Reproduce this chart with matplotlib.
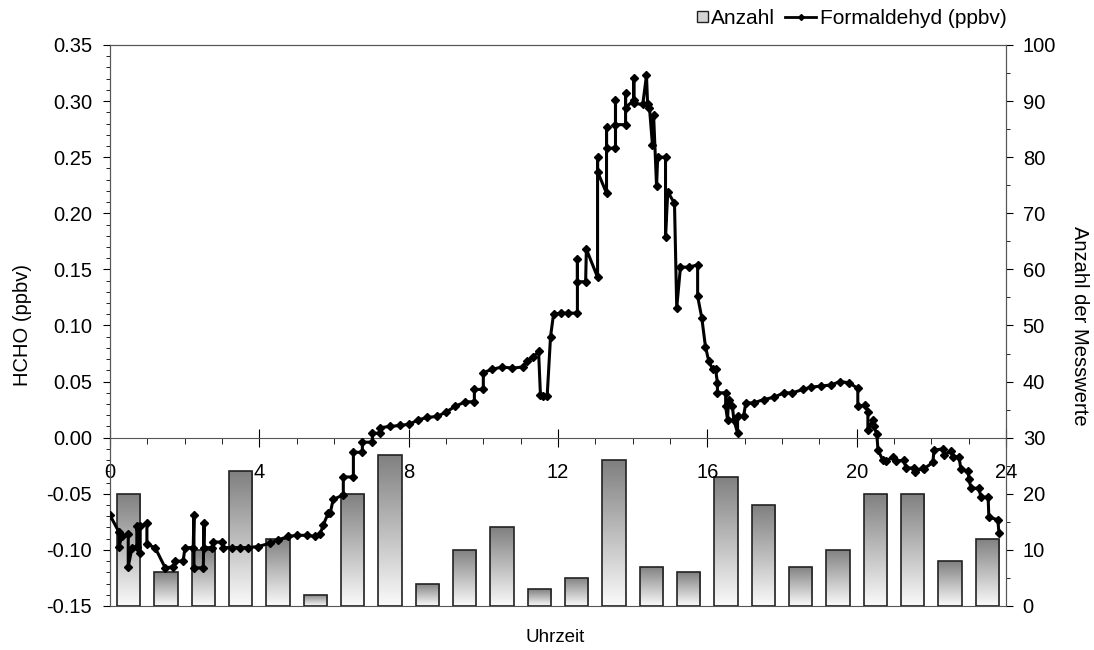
import matplotlib.pyplot as plt
import numpy as np
from matplotlib.patches import Patch, Rectangle
from matplotlib.lines import Line2D
from matplotlib.legend_handler import HandlerPatch
from matplotlib.ticker import MultipleLocator, FormatStrFormatter

plt.rcParams["font.family"] = ["Liberation Sans", "DejaVu Sans"]
plt.rcParams["font.size"] = 14.5

# hourly number of measurements (right axis)
hours = np.arange(24)
anzahl = [20, 6, 10, 24, 12, 2, 20, 27, 4, 10, 14, 3,
          5, 26, 7, 6, 23, 18, 7, 10, 20, 20, 8, 12]

# formaldehyde time series (left axis)
zeit = [0.0, 0.24, 0.24, 0.32, 0.49, 0.49, 0.59, 0.72, 0.72, 0.81, 0.81, 0.99,
        0.99, 1.21, 1.48, 1.70, 1.75, 1.96, 2.01, 2.23, 2.25, 2.25, 2.50, 2.52,
        2.52, 2.74, 2.77, 3.01, 3.03, 3.27, 3.49, 3.70, 3.97, 4.29, 4.51, 4.78,
        5.01, 5.28, 5.50, 5.63, 5.71, 5.85, 5.90, 5.98, 6.25, 6.25, 6.52, 6.52,
        6.76, 6.76, 7.03, 7.03, 7.24, 7.24, 7.51, 7.78, 8.02, 8.26, 8.50, 8.77,
        9.01, 9.25, 9.52, 9.76, 9.76, 10.00, 10.00, 10.24, 10.51, 10.78, 11.05, 11.18,
        11.34, 11.48, 11.53, 11.61, 11.71, 11.80, 11.88, 12.07, 12.28, 12.52, 12.52, 12.52,
        12.74, 12.76, 13.06, 13.06, 13.06, 13.30, 13.30, 13.30, 13.54, 13.54, 13.54, 13.81,
        13.81, 13.81, 14.03, 14.03, 14.03, 14.27, 14.37, 14.40, 14.45, 14.53, 14.56, 14.64,
        14.67, 14.88, 14.88, 14.94, 15.12, 15.18, 15.28, 15.50, 15.74, 15.74, 15.85, 15.95,
        16.04, 16.14, 16.22, 16.27, 16.27, 16.49, 16.49, 16.54, 16.57, 16.67, 16.71, 16.81,
        16.81, 16.97, 17.03, 17.24, 17.51, 17.78, 18.05, 18.28, 18.56, 18.77, 19.04, 19.31,
        19.55, 19.79, 20.03, 20.03, 20.22, 20.30, 20.30, 20.43, 20.46, 20.54, 20.57, 20.70,
        20.78, 20.97, 21.05, 21.26, 21.32, 21.53, 21.56, 21.77, 21.79, 22.04, 22.07, 22.31,
        22.34, 22.52, 22.58, 22.74, 22.79, 22.98, 23.01, 23.06, 23.27, 23.33, 23.52, 23.54,
        23.78, 23.81]
hcho = [-0.069, -0.084, -0.097, -0.088, -0.086, -0.115, -0.098, -0.097, -0.079, -0.103, -0.079, -0.076,
        -0.095, -0.098, -0.116, -0.115, -0.110, -0.110, -0.098, -0.098, -0.069, -0.116, -0.116, -0.076,
        -0.098, -0.098, -0.093, -0.093, -0.098, -0.098, -0.098, -0.098, -0.097, -0.094, -0.091, -0.088,
        -0.087, -0.087, -0.088, -0.086, -0.078, -0.067, -0.067, -0.055, -0.051, -0.035, -0.035, -0.013,
        -0.013, -0.004, -0.004, 0.004, 0.004, 0.009, 0.010, 0.011, 0.012, 0.016, 0.018, 0.019,
        0.023, 0.028, 0.032, 0.032, 0.043, 0.043, 0.058, 0.061, 0.063, 0.062, 0.063, 0.068,
        0.072, 0.077, 0.038, 0.037, 0.037, 0.090, 0.110, 0.111, 0.111, 0.111, 0.159, 0.139,
        0.139, 0.168, 0.143, 0.250, 0.237, 0.218, 0.277, 0.258, 0.258, 0.301, 0.279, 0.279,
        0.307, 0.294, 0.301, 0.321, 0.298, 0.297, 0.323, 0.297, 0.294, 0.261, 0.288, 0.224,
        0.250, 0.250, 0.179, 0.219, 0.209, 0.116, 0.152, 0.152, 0.154, 0.126, 0.107, 0.081,
        0.068, 0.061, 0.061, 0.049, 0.040, 0.040, 0.028, 0.016, 0.034, 0.028, 0.016, 0.004,
        0.019, 0.019, 0.031, 0.031, 0.034, 0.036, 0.040, 0.040, 0.043, 0.045, 0.046, 0.047,
        0.050, 0.049, 0.044, 0.028, 0.029, 0.023, 0.007, 0.016, 0.010, 0.003, -0.011, -0.020,
        -0.021, -0.017, -0.021, -0.020, -0.027, -0.027, -0.031, -0.027, -0.028, -0.022, -0.011, -0.010,
        -0.015, -0.012, -0.017, -0.017, -0.028, -0.030, -0.037, -0.045, -0.045, -0.053, -0.053, -0.071,
        -0.073, -0.085]


def small_square(legend, orig_handle, xdescent, ydescent, width, height, fontsize):
    s = height * 0.75
    return Rectangle((width - s - xdescent, (height - s) / 2 - ydescent), s, s)


fig = plt.figure(figsize=(10.94, 6.5), dpi=100)
ax = fig.add_axes([0.1005, 0.0677, 0.8191, 0.8631])
ax2 = ax.twinx()

# bars with vertical grey gradient
grad = np.linspace(0.98, 0.5, 256).reshape(-1, 1)
bars = ax2.bar(hours + 0.5, anzahl, width=0.63, facecolor="none",
               edgecolor="#222222", linewidth=1.2, zorder=3)
for b in bars:
    x0, y0 = b.get_x(), b.get_y()
    w, h = b.get_width(), b.get_height()
    im = ax2.imshow(grad, cmap="gray", vmin=0, vmax=1, aspect="auto",
                    extent=[x0, x0 + w, y0, y0 + h], origin="lower", zorder=2)
    im.set_clip_path(b)

ax2.set_ylim(0, 100)
ax2.set_xlim(0, 24)
ax2.yaxis.set_major_locator(MultipleLocator(10))
ax2.yaxis.set_minor_locator(MultipleLocator(5))
ax2.tick_params(axis="y", which="major", direction="out", length=5, pad=7)
ax2.tick_params(axis="y", which="minor", direction="out", length=3)
ax2.set_ylabel("Anzahl der Messwerte", rotation=270, labelpad=24)

# line on top of bars
ax.set_zorder(ax2.get_zorder() + 1)
ax.patch.set_visible(False)
ax.plot(zeit, hcho, color="black", lw=2.2, marker="D", markersize=4, zorder=4)

ax.set_xlim(0, 24)
ax.set_ylim(-0.15, 0.35)
ax.yaxis.set_major_locator(MultipleLocator(0.05))
ax.yaxis.set_minor_locator(MultipleLocator(0.01))
ax.yaxis.set_major_formatter(FormatStrFormatter("%.2f"))
ax.tick_params(axis="y", which="major", direction="out", length=5, pad=8)
ax.tick_params(axis="y", which="minor", direction="out", length=3)

ax.spines["bottom"].set_position(("data", 0))
ax.spines["bottom"].set_color("#555555")
ax.xaxis.set_major_locator(MultipleLocator(4))
ax.xaxis.set_minor_locator(MultipleLocator(1))
ax.tick_params(axis="x", which="major", direction="inout", length=13, pad=12)
ax.tick_params(axis="x", which="minor", direction="out", length=4)

for s in ["top", "left", "right"]:
    ax.spines[s].set_color("#555555")
for s in ax2.spines.values():
    s.set_color("#555555")

ax.set_ylabel("HCHO (ppbv)", labelpad=10)
fig.text(0.507, 0.02, "Uhrzeit", ha="center", va="center", fontsize=13.5)

handles = [Patch(facecolor="#d4d4d4", edgecolor="#222222", linewidth=1),
           Line2D([], [], color="black", lw=2, marker="D", markersize=3)]
fig.legend(handles, ["Anzahl", "Formaldehyd (ppbv)"], loc="upper right",
           bbox_to_anchor=(0.937, 1.015), ncol=2, frameon=False, fontsize=15,
           handlelength=1.5, handletextpad=0.15, columnspacing=0.5,
           handler_map={Patch: HandlerPatch(patch_func=small_square)})

fig.savefig("out.png", dpi=100)
